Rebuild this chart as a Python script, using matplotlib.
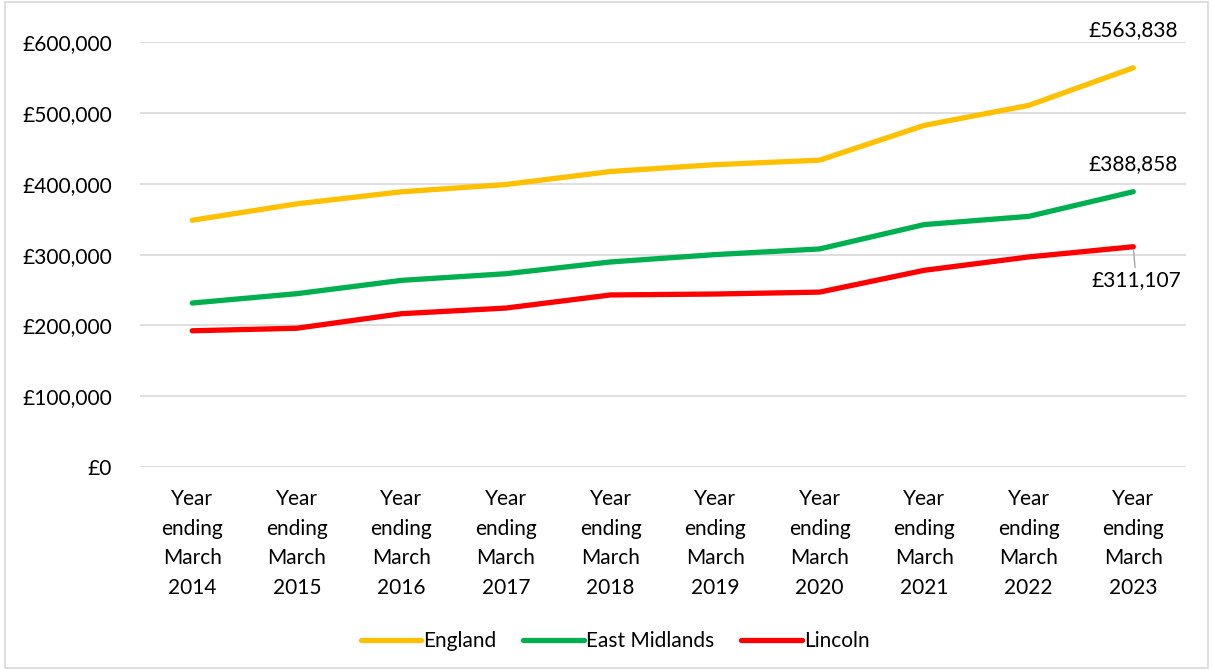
import matplotlib.pyplot as plt
from matplotlib.ticker import FuncFormatter
from matplotlib.patches import Rectangle

plt.rcParams['font.family'] = ['Lato', 'DejaVu Sans']

years = [2014, 2015, 2016, 2017, 2018, 2019, 2020, 2021, 2022, 2023]
labels = ['Year\nending\nMarch\n%d' % y for y in years]

england = [348500, 371700, 388700, 399000, 417400, 427000, 433400, 482500, 510800, 563838]
east_midlands = [231600, 244800, 263600, 273000, 289600, 300000, 308000, 342400, 354000, 388858]
lincoln = [192400, 196000, 216500, 224500, 243000, 244300, 247000, 277800, 296700, 311107]

fig = plt.figure(figsize=(12.13, 6.70), dpi=100)
ax = fig.add_axes([0.1154, 0.303, 0.862, 0.634])

x = list(range(len(years)))
ax.plot(x, england, color='#FFC000', lw=3.8, solid_capstyle='round', label='England')
ax.plot(x, east_midlands, color='#00B050', lw=3.8, solid_capstyle='round', label='East Midlands')
ax.plot(x, lincoln, color='#FF0000', lw=3.8, solid_capstyle='round', label='Lincoln')

ax.set_xlim(-0.5, 9.5)
ax.set_ylim(0, 600000)
ax.set_yticks(range(0, 600001, 100000))
ax.yaxis.set_major_formatter(FuncFormatter(lambda v, p: '£{:,.0f}'.format(v)))
ax.set_xticks(x)
ax.set_xticklabels(labels, linespacing=1.6)
ax.tick_params(axis='both', length=0, labelsize=15, colors='black')
ax.tick_params(axis='x', pad=16)
ax.tick_params(axis='y', pad=20)
ax.grid(axis='y', color='#D9D9D9', lw=1.2)
ax.set_axisbelow(True)
for s in ax.spines.values():
    s.set_visible(False)

ax.annotate('£{:,}'.format(england[-1]), (x[-1], england[-1]), xytext=(0, 20),
            textcoords='offset points', ha='center', va='bottom', fontsize=15)
ax.annotate('£{:,}'.format(east_midlands[-1]), (x[-1], east_midlands[-1]), xytext=(0, 13),
            textcoords='offset points', ha='center', va='bottom', fontsize=15)
ax.annotate('£{:,}'.format(lincoln[-1]), (x[-1], lincoln[-1]), xytext=(2, -17),
            textcoords='offset points', ha='center', va='top', fontsize=15,
            arrowprops=dict(arrowstyle='-', color='#A6A6A6', lw=1, shrinkA=0, shrinkB=2))

fig.legend(loc='lower center', bbox_to_anchor=(0.507, 0.0), ncol=3, frameon=False,
           fontsize=15, handlelength=2.9, handletextpad=0.1, columnspacing=1.3)

fig.patches.append(Rectangle((0.004, 0.003), 0.992, 0.994, transform=fig.transFigure,
                             fill=False, ec='#D9D9D9', lw=1.2))

fig.savefig('out.png', dpi=100)
